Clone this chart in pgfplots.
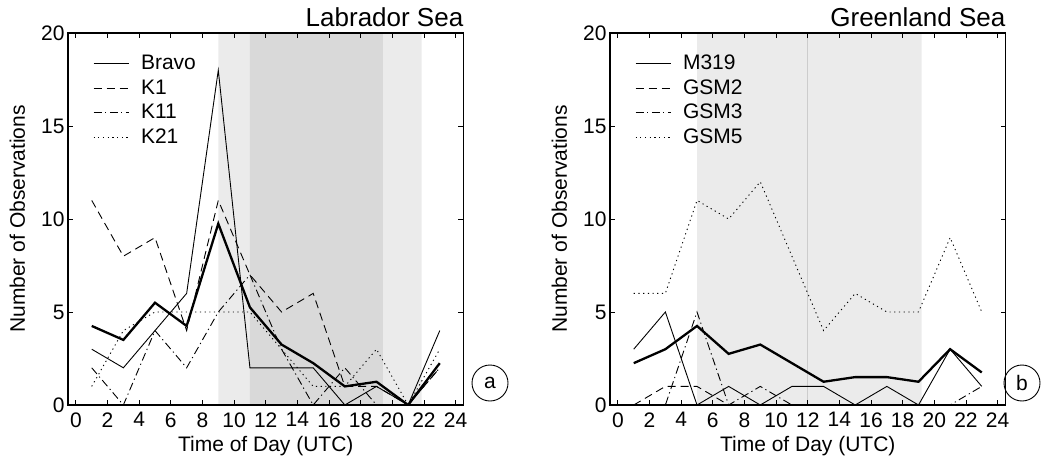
\documentclass[border=0pt]{standalone}
\usepackage{fontspec}
\setmainfont{Liberation Sans}
\usepackage{pgfplots}
\pgfplotsset{compat=1.18}
\definecolor{shadeL}{gray}{0.92}
\definecolor{shadeD}{gray}{0.85}
\definecolor{vline}{gray}{0.80}

\pgfplotsset{
  myax/.style={
    scale only axis, width=395.5pt, height=372pt,
    xmin=-0.5, xmax=24.5, ymin=0, ymax=20,
    xtick={0,2,...,24}, ytick={0,5,10,15,20},
    tick align=inside, major tick length=5pt,
    axis line style={line width=1.3pt},
    every tick/.style={black, line width=0.9pt},
    axis on top,
    /pgf/number format/assume math mode=true,
    tick label style={font=\fontsize{21}{25}\selectfont},
    xticklabel style={yshift=-4pt},
    every axis x label/.style={at={(axis description cs:0.5,-0.126)}, anchor=base, font=\fontsize{21}{25}\selectfont},
    every axis y label/.style={at={(axis description cs:-0.128,0.5)}, anchor=center, rotate=90, font=\fontsize{21}{25}\selectfont},
    xlabel={Time of Day (UTC)},
    ylabel={Number of Observations},
    legend style={draw=none, fill=none, at={(axis description cs:0.063,0.945)}, anchor=north west,
      inner sep=0pt, font=\fontsize{21}{25}\selectfont, row sep=4.5pt,
      nodes={inner sep=0pt, text height=16pt, text depth=4pt},
      /tikz/every odd column/.style={column sep=12pt}, cells={anchor=west}},
    legend image code/.code={\draw[#1] (0pt,0pt) -- (35pt,0pt);},
  },
  thin/.style={black, line width=0.9pt},
  sdash/.style={thin, dash pattern=on 8pt off 5pt},
  sdashdot/.style={thin, dash pattern=on 8pt off 3.5pt on 1.2pt off 3.5pt},
  sdot/.style={thin, dash pattern=on 1.2pt off 3.5pt},
  mean/.style={black, line width=2.3pt},
}

\begin{document}
\begin{tikzpicture}[x=1pt,y=1pt]
\path[use as bounding box] (0,0) rectangle (1047,467);

% ---------------- Labrador Sea ----------------
\begin{axis}[myax, at={(68pt,62pt)}, anchor=south west]
\addplot[fill=shadeL, draw=none, forget plot] coordinates {(9,0) (9,20) (21.85,20) (21.85,0)} \closedcycle;
\addplot[fill=shadeD, draw=none, forget plot] coordinates {(11,0) (11,20) (19.4,20) (19.4,0)} \closedcycle;
\addplot[thin] coordinates {(1,3)(3,2)(5,4)(7,6)(9,18)(11,2)(13,2)(15,2)(17,0)(19,1)(21,0)(23,4)};
\addlegendentry{Bravo}
\addplot[sdash] coordinates {(1,11)(3,8)(5,9)(7,4)(9,11)(11,7)(13,5)(15,6)(17,1)(19,1)(21,0)(23,2)};
\addlegendentry{K1}
\addplot[sdashdot] coordinates {(1,2)(3,0)(5,4)(7,2)(9,5)(11,7)(13,3)(15,0)(17,2)(19,0)(21,0)(23,2)};
\addlegendentry{K11}
\addplot[sdot] coordinates {(1,1)(3,4)(5,5)(7,5)(9,5)(11,5)(13,3)(15,1)(17,1)(19,3)(21,0)(23,3)};
\addlegendentry{K21}
\addplot[mean, forget plot] coordinates {(1,4.25)(3,3.5)(5,5.5)(7,4.25)(9,9.75)(11,5.25)(13,3.25)(15,2.25)(17,1)(19,1.25)(21,0)(23,2.25)};
\end{axis}

% ---------------- Greenland Sea ----------------
\begin{axis}[myax, at={(610pt,62pt)}, anchor=south west]
\addplot[fill=shadeL, draw=none, forget plot] coordinates {(5,0) (5,20) (19.2,20) (19.2,0)} \closedcycle;
\addplot[vline, line width=0.8pt, forget plot] coordinates {(12,0) (12,20)};
\addplot[thin] coordinates {(1,3)(3,5)(5,0)(7,1)(9,0)(11,1)(13,1)(15,0)(17,1)(19,0)(21,3)(23,1)};
\addlegendentry{M319}
\addplot[sdash] coordinates {(1,0)(3,1)(5,1)(7,0)(9,0)(11,0)(13,0)(15,0)(17,0)(19,0)(21,0)(23,0)};
\addlegendentry{GSM2}
\addplot[sdashdot] coordinates {(1,0)(3,0)(5,5)(7,0)(9,1)(11,0)(13,0)(15,0)(17,0)(19,0)(21,0)(23,1)};
\addlegendentry{GSM3}
\addplot[sdot] coordinates {(1,6)(3,6)(5,11)(7,10)(9,12)(11,8)(13,4)(15,6)(17,5)(19,5)(21,9)(23,5)};
\addlegendentry{GSM5}
\addplot[mean, forget plot] coordinates {(1,2.25)(3,3)(5,4.25)(7,2.75)(9,3.25)(11,2.25)(13,1.25)(15,1.5)(17,1.5)(19,1.25)(21,3)(23,1.75)};
\end{axis}

% titles and panel letters
\node[anchor=base east, font=\fontsize{26}{30}\selectfont, inner sep=0pt] at (463.5,440) {Labrador Sea};
\node[anchor=base east, font=\fontsize{26}{30}\selectfont, inner sep=0pt] at (1005.5,440) {Greenland Sea};
\node[circle, draw, line width=0.9pt, minimum size=36pt, inner sep=0pt, font=\fontsize{21}{25}\selectfont] at (490,84) {a};
\node[circle, draw, line width=0.9pt, minimum size=36pt, inner sep=0pt, font=\fontsize{21}{25}\selectfont] at (1022,84) {b};
\end{tikzpicture}
\end{document}
